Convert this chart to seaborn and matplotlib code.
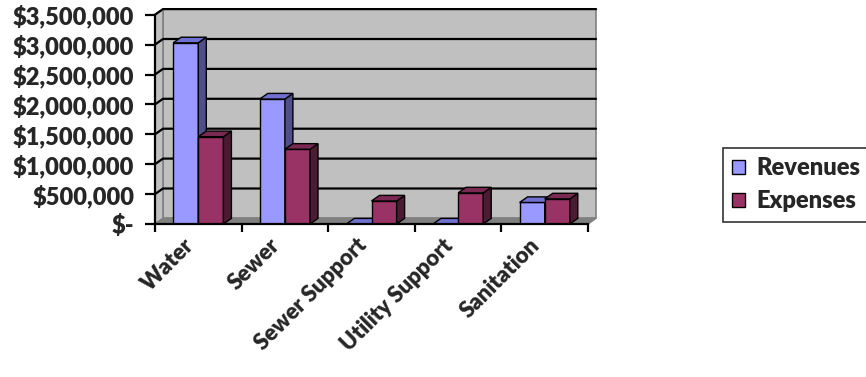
import numpy as np
import pandas as pd
import matplotlib.pyplot as plt
import seaborn as sns
import matplotlib.transforms as mtransforms
from matplotlib.patches import Polygon, Patch
from matplotlib.ticker import FuncFormatter

# datos
categories = ['Water', 'Sewer', 'Sewer Support', 'Utility Support', 'Sanitation']
revenues = [3030000, 2090000, 0, 0, 360000]
expenses = [1460000, 1250000, 385000, 520000, 420000]
series_names = ['Revenues', 'Expenses']

front_colors = {'Revenues': '#9999FF', 'Expenses': '#993366'}
top_colors = {'Revenues': '#7070D0', 'Expenses': '#7A2952'}
side_colors = {'Revenues': '#4F4F8C', 'Expenses': '#4D1A33'}

df = pd.DataFrame({
    'Category': categories * 2,
    'Series': ['Revenues'] * len(categories) + ['Expenses'] * len(categories),
    'Value': revenues + expenses,
})

sns.set_style('white')
plt.rcParams['font.family'] = ['Lato', 'DejaVu Sans']
peso = 'heavy'

fig = plt.figure(figsize=(8.66, 3.77), dpi=100)
ax = fig.add_axes([155 / 866, 1 - 224 / 377, (588 - 155) / 866, (224 - 14.7) / 377])
ax.set_facecolor('none')

ymax = 3500000
n = len(categories)

# profundidad 3D en unidades de datos
dx = 8 / 86.6
dy = 5.6 / 59.8 * 1000000
x0, x1 = -0.5, n - 0.5

# pared del fondo, pared lateral y suelo
ax.add_patch(Polygon([(x0 + dx, dy), (x1 + dx, dy), (x1 + dx, ymax + dy), (x0 + dx, ymax + dy)],
                     closed=True, facecolor='#C0C0C0', edgecolor='#808080', lw=1.2, zorder=0, clip_on=False))
ax.add_patch(Polygon([(x0, 0), (x0 + dx, dy), (x0 + dx, ymax + dy), (x0, ymax)],
                     closed=True, facecolor='#C0C0C0', edgecolor='#808080', lw=1.2, zorder=0, clip_on=False))
ax.add_patch(Polygon([(x0, 0), (x1, 0), (x1 + dx, dy), (x0 + dx, dy)],
                     closed=True, facecolor='#808080', edgecolor='#808080', lw=1, zorder=0.5, clip_on=False))

# lineas de cuadricula sobre la pared
for v in np.arange(500000, ymax + 1, 500000):
    ax.plot([x0, x0 + dx, x1 + dx], [v, v + dy, v + dy], color='black', lw=1.6, zorder=1, clip_on=False)

sns.barplot(data=df, x='Category', y='Value', hue='Series', order=categories, hue_order=series_names,
            palette=front_colors, width=0.58, gap=0, dodge=True, edgecolor='black', linewidth=1,
            saturation=1, ax=ax, legend=False, errorbar=None)

# caras laterales y superiores de cada barra
for name, cont in zip(series_names, ax.containers):
    z = 3 if name == 'Revenues' else 4
    for bar in cont:
        bar.set_zorder(z)
        bx0 = bar.get_x()
        bx1 = bx0 + bar.get_width()
        h = bar.get_height()
        side = Polygon([(bx1, 0), (bx1 + dx, dy), (bx1 + dx, h + dy), (bx1, h)], closed=True,
                       facecolor=side_colors[name], edgecolor='black', lw=1, zorder=z, clip_on=False)
        top = Polygon([(bx0, h), (bx1, h), (bx1 + dx, h + dy), (bx0 + dx, h + dy)], closed=True,
                      facecolor=top_colors[name], edgecolor='black', lw=1, zorder=z, clip_on=False)
        ax.add_patch(side)
        ax.add_patch(top)

ax.set_ylim(0, ymax)
ax.set_xlim(x0, x1)

# ejes
sns.despine(ax=ax, top=True, right=True, left=False, bottom=False)
for sp in ['left', 'bottom']:
    ax.spines[sp].set_color('black')
    ax.spines[sp].set_linewidth(1.6)
    ax.spines[sp].set_zorder(5)

ax.set_yticks(np.arange(0, ymax + 1, 500000))
ax.yaxis.set_major_formatter(FuncFormatter(lambda v, p: '$-' if v == 0 else f'${v:,.0f}'))
ax.set_xticks(np.arange(-0.5, n, 1.0))
ax.set_xticklabels([])
ax.set_xticks(np.arange(n), minor=True)
ax.set_xticklabels(categories, minor=True, rotation=45, ha='right', va='center', rotation_mode='anchor')
ax.tick_params(axis='x', which='major', direction='out', length=6, width=1.6, color='black', bottom=True)
ax.tick_params(axis='x', which='minor', length=0, pad=13, labelsize=16)
ax.tick_params(axis='y', direction='out', length=7, width=1.6, color='black', labelsize=17, pad=8, left=True)
shift = mtransforms.ScaledTranslation(-8 / 100, 0, fig.dpi_scale_trans)
for lab in ax.get_xticklabels(minor=True):
    lab.set_fontweight(peso)
    lab.set_transform(lab.get_transform() + shift)
for lab in ax.get_yticklabels():
    lab.set_fontweight(peso)
ax.set_xlabel('')
ax.set_ylabel('')

handles = [Patch(facecolor=front_colors[s], edgecolor='black', lw=1) for s in series_names]
leg = fig.legend(handles, series_names, loc='upper left', bbox_to_anchor=(723 / 866, 1 - 148 / 377),
                 frameon=True, fancybox=False, edgecolor='black', prop={'weight': peso, 'size': 17},
                 handlelength=0.55, handleheight=0.55, handletextpad=0.45, labelspacing=0.45,
                 borderpad=0.4, borderaxespad=0)
leg.get_frame().set_linewidth(1.2)

plt.savefig('out.png', dpi=100)
